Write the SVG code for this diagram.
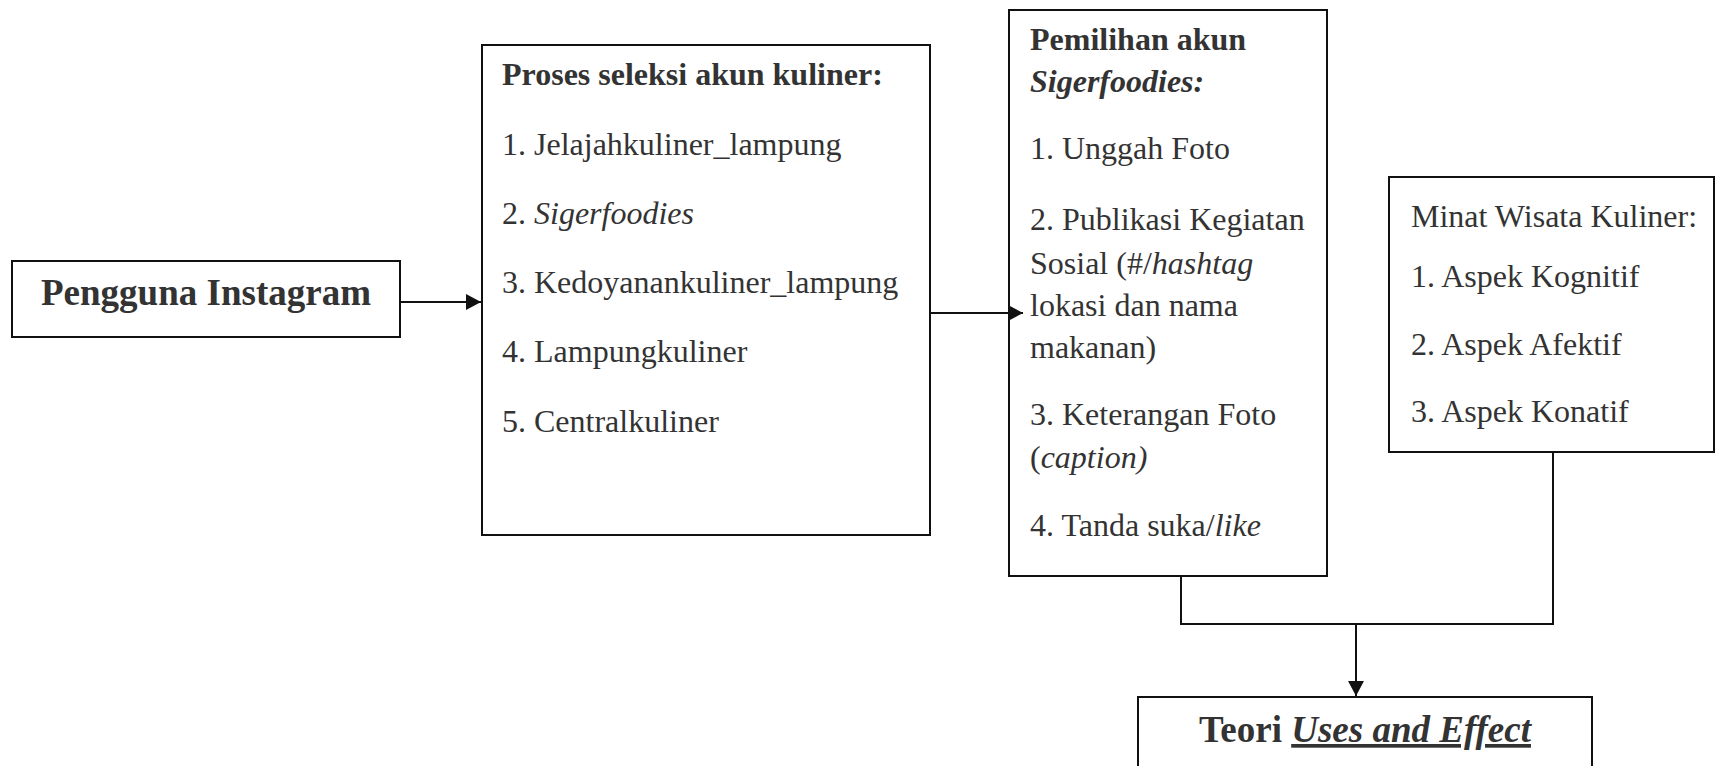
<svg xmlns="http://www.w3.org/2000/svg" width="1715" height="766" viewBox="0 0 1715 766">
<style>
.box{fill:#fff;stroke:#111;stroke-width:2}
.t{font-family:"Liberation Serif","Times New Roman",serif;font-size:32px;fill:#333}
.b{font-weight:bold}
.i{font-style:italic}
.big{font-size:37px;font-weight:bold}
.c{fill:none;stroke:#111;stroke-width:2}
</style>
<defs>
<marker id="arr" viewBox="0 0 15 16" refX="15" refY="8" markerWidth="15" markerHeight="16" markerUnits="userSpaceOnUse" orient="auto">
<path d="M0,0 L15,8 L0,16 Z" fill="#111"/>
</marker>
</defs>
<rect width="1715" height="766" fill="#fff"/>
<g id="n-pengguna">
<rect class="box" x="12" y="261" width="388" height="76"/>
<text class="t big" x="206" y="305" text-anchor="middle">Pengguna Instagram</text>
</g>
<g id="n-proses">
<rect class="box" x="482" y="45" width="448" height="490"/>
<text class="t b" x="502" y="85">Proses seleksi akun kuliner:</text>
<text class="t" x="502" y="155">1. Jelajahkuliner_lampung</text>
<text class="t" x="502" y="224">2. <tspan class="i">Sigerfoodies</tspan></text>
<text class="t" x="502" y="293">3. Kedoyanankuliner_lampung</text>
<text class="t" x="502" y="362">4. Lampungkuliner</text>
<text class="t" x="502" y="432">5. Centralkuliner</text>
</g>
<g id="n-pemilihan">
<rect class="box" x="1009" y="10" width="318" height="566"/>
<text class="t b" x="1030" y="50">Pemilihan akun</text>
<text class="t b i" x="1030" y="92">Sigerfoodies:</text>
<text class="t" x="1030" y="159">1. Unggah Foto</text>
<text class="t" x="1030" y="230">2. Publikasi Kegiatan</text>
<text class="t" x="1030" y="274">Sosial (#/<tspan class="i">hashtag</tspan></text>
<text class="t" x="1030" y="316">lokasi dan nama</text>
<text class="t" x="1030" y="358">makanan)</text>
<text class="t" x="1030" y="425">3. Keterangan Foto</text>
<text class="t" x="1030" y="468">(<tspan class="i">caption)</tspan></text>
<text class="t" x="1030" y="536">4. Tanda suka/<tspan class="i">like</tspan></text>
</g>
<g id="n-minat">
<rect class="box" x="1389" y="177" width="325" height="275"/>
<text class="t" x="1411" y="227">Minat Wisata Kuliner:</text>
<text class="t" x="1411" y="287">1. Aspek Kognitif</text>
<text class="t" x="1411" y="355">2. Aspek Afektif</text>
<text class="t" x="1411" y="422">3. Aspek Konatif</text>
</g>
<g id="n-teori">
<rect class="box" x="1138" y="697" width="454" height="100"/>
<text class="t big" x="1365" y="742" text-anchor="middle">Teori <tspan class="i" text-decoration="underline">Uses and Effect</tspan></text>
</g>
<g id="connectors">
<line class="c" x1="400" y1="302" x2="481" y2="302" marker-end="url(#arr)"/>
<line class="c" x1="930" y1="313" x2="1023" y2="313" marker-end="url(#arr)"/>
<polyline class="c" points="1181,576 1181,624 1553,624 1553,452"/>
<line class="c" x1="1356" y1="624" x2="1356" y2="696" marker-end="url(#arr)"/>
</g>
</svg>
